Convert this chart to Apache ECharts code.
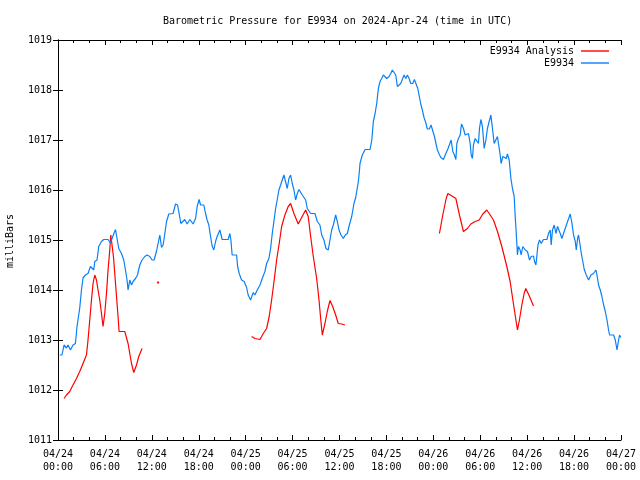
<!DOCTYPE html>
<html>
<head>
<meta charset="utf-8">
<script src="https://cdn.jsdelivr.net/npm/echarts@6/dist/echarts.min.js"></script>
<style>html,body{margin:0;padding:0;background:#fff;}#c{width:640px;height:480px;}</style>
</head>
<body>
<div id="c"></div>
<script>
// Hours since 2024-04-24 00:00 UTC
var xTickLabels = ['04/24\n00:00','04/24\n06:00','04/24\n12:00','04/24\n18:00','04/25\n00:00','04/25\n06:00','04/25\n12:00','04/25\n18:00','04/26\n00:00','04/26\n06:00','04/26\n12:00','04/26\n18:00','04/27\n00:00'];
var yTickValues = [1011,1012,1013,1014,1015,1016,1017,1018,1019];

var obsHours = [0.22,0.51,0.77,1.08,1.28,1.59,1.92,2.23,2.43,2.78,3.00,3.20,3.51,3.84,4.15,4.35,4.57,4.70,4.99,5.21,5.56,5.85,6.40,6.71,6.91,7.17,7.35,7.55,7.77,8.12,8.41,8.63,8.83,8.96,9.18,9.40,9.60,9.91,10.16,10.46,10.75,11.10,11.39,11.74,12.03,12.29,12.60,12.80,13.02,13.24,13.44,13.57,13.88,14.17,14.72,15.03,15.29,15.49,15.71,15.93,16.22,16.51,16.86,17.07,17.28,17.59,17.80,18.05,18.23,18.43,18.65,18.87,19.07,19.29,19.51,19.71,19.93,20.15,20.35,20.70,21.00,21.76,21.98,22.11,22.27,22.84,22.97,23.17,23.48,23.81,23.99,24.12,24.32,24.63,24.97,25.18,25.48,25.83,26.12,26.46,26.68,26.97,27.19,27.40,27.61,27.83,28.03,28.25,28.47,28.68,28.89,29.11,29.32,29.53,29.75,29.96,30.17,30.39,30.60,30.82,31.03,31.24,31.46,31.67,31.88,32.10,32.31,32.86,33.16,33.50,33.72,34.01,34.27,34.56,34.78,35.00,35.21,35.51,35.72,35.94,36.19,36.49,36.74,37.00,37.26,37.56,37.85,38.07,38.28,38.41,38.54,38.62,38.92,39.27,39.91,40.13,40.33,40.55,40.76,40.97,41.18,41.40,41.61,41.82,42.04,42.34,42.55,42.76,42.97,43.19,43.40,43.62,43.83,44.04,44.26,44.47,44.68,44.90,45.11,45.37,45.58,45.79,46.01,46.21,46.39,46.59,46.81,47.03,47.23,47.49,47.71,47.93,48.14,48.35,48.52,48.74,48.96,49.16,49.29,49.60,49.86,50.06,50.28,50.49,50.70,50.88,51.01,51.21,51.43,51.60,51.85,52.07,52.29,52.49,52.71,52.84,53.00,53.13,53.35,53.57,53.77,53.90,54.08,54.28,54.50,54.72,54.92,55.14,55.36,55.56,55.78,56.00,56.20,56.33,56.55,56.67,56.89,57.10,57.31,57.48,57.70,57.92,58.12,58.34,58.46,58.59,58.76,58.89,59.10,59.23,59.45,59.75,60.04,60.30,60.52,60.81,60.94,61.12,61.25,61.38,61.58,61.80,62.09,62.53,62.73,62.95,63.07,63.24,63.46,63.68,63.88,64.10,64.23,64.44,64.65,64.86,65.08,65.29,65.51,65.73,65.93,66.15,66.28,66.45,66.57,66.70,66.88,67.08,67.30,67.56,67.85,68.16,68.49,68.80,68.93,69.13,69.35,69.56,69.78,69.99,70.21,70.41,70.54,71.05,71.27,71.49,71.69,71.82,71.97];
var obsValues = [1012.70,1012.70,1012.90,1012.84,1012.90,1012.80,1012.90,1012.93,1013.27,1013.64,1014.00,1014.24,1014.30,1014.33,1014.47,1014.46,1014.40,1014.57,1014.60,1014.87,1014.97,1015.01,1015.01,1014.94,1014.97,1015.14,1015.21,1015.03,1014.83,1014.73,1014.60,1014.40,1014.20,1014.00,1014.20,1014.10,1014.17,1014.23,1014.30,1014.50,1014.60,1014.67,1014.70,1014.67,1014.60,1014.60,1014.78,1014.93,1015.10,1014.85,1014.90,1015.03,1015.37,1015.52,1015.53,1015.72,1015.70,1015.53,1015.33,1015.37,1015.41,1015.32,1015.41,1015.40,1015.32,1015.43,1015.67,1015.81,1015.70,1015.67,1015.70,1015.53,1015.40,1015.30,1015.07,1014.88,1014.80,1014.97,1015.07,1015.20,1015.01,1015.01,1015.13,1015.00,1014.70,1014.70,1014.47,1014.33,1014.20,1014.17,1014.20,1014.05,1013.90,1013.80,1013.95,1013.90,1014.00,1014.10,1014.23,1014.37,1014.53,1014.63,1014.83,1015.13,1015.37,1015.63,1015.80,1016.00,1016.10,1016.20,1016.30,1016.30,1016.03,1016.23,1016.30,1016.13,1016.00,1015.80,1015.93,1016.01,1015.97,1015.90,1015.87,1015.80,1015.63,1015.60,1015.53,1015.53,1015.37,1015.30,1015.10,1015.00,1014.83,1014.80,1015.00,1015.20,1015.30,1015.50,1015.37,1015.20,1015.10,1015.03,1015.10,1015.13,1015.30,1015.47,1015.73,1015.85,1015.85,1016.17,1016.37,1016.53,1016.70,1016.81,1016.81,1017.00,1017.37,1017.53,1017.73,1018.03,1018.17,1018.23,1018.30,1018.30,1018.23,1018.27,1018.33,1018.40,1018.37,1018.30,1018.07,1018.10,1018.13,1018.13,1018.30,1018.23,1018.30,1018.23,1018.13,1018.13,1018.21,1018.21,1018.03,1017.87,1017.72,1017.60,1017.45,1017.35,1017.22,1017.22,1017.30,1017.18,1017.07,1016.92,1016.80,1016.72,1016.65,1016.61,1016.61,1016.73,1016.82,1016.84,1017.00,1016.77,1016.70,1016.61,1016.93,1017.03,1017.10,1017.32,1017.23,1017.10,1017.07,1017.13,1016.93,1016.70,1016.63,1016.90,1017.03,1017.00,1016.93,1017.23,1017.41,1017.27,1016.83,1017.00,1017.23,1017.37,1017.50,1017.23,1016.93,1016.97,1017.07,1017.07,1016.70,1016.53,1016.67,1016.70,1016.63,1016.72,1016.60,1016.23,1016.03,1015.87,1015.50,1015.17,1014.70,1014.87,1014.80,1014.70,1014.87,1014.80,1014.77,1014.60,1014.67,1014.68,1014.57,1014.50,1014.70,1014.90,1015.00,1014.93,1015.01,1015.01,1015.13,1015.20,1014.90,1015.20,1015.30,1015.13,1015.27,1015.27,1015.13,1015.03,1015.13,1015.23,1015.33,1015.33,1015.52,1015.33,1015.10,1014.97,1014.80,1015.03,1015.10,1014.97,1014.77,1014.60,1014.41,1014.30,1014.20,1014.30,1014.33,1014.40,1014.30,1014.10,1014.00,1013.87,1013.70,1013.57,1013.40,1013.20,1013.10,1013.10,1013.00,1012.80,1013.00,1013.10,1013.05];

// null = gap in the analysis series
var anaHours = [0.77,1.08,1.50,1.92,2.36,2.78,3.20,3.64,3.84,4.06,4.28,4.48,4.70,4.92,5.12,5.34,5.56,5.76,5.89,5.98,6.20,6.40,6.62,6.75,6.91,7.09,7.26,7.48,7.68,7.81,8.54,8.76,8.96,9.18,9.40,9.69,10.04,10.33,10.75,11.8,12.80,18.0,24.76,25.18,25.83,26.25,26.68,27.01,27.32,27.65,27.96,28.29,28.60,29.02,29.44,29.75,30.17,30.72,31.16,31.67,31.80,32.00,32.31,32.65,33.08,33.38,33.59,33.80,34.14,34.44,34.78,35.13,35.51,35.84,36.28,36.70,42.0,48.78,49.21,49.64,49.86,50.37,50.88,51.34,51.85,52.36,52.80,53.35,53.86,54.33,54.84,55.27,55.69,56.20,56.76,57.40,57.82,58.24,58.59,58.76,59.01,59.32,59.61,59.83,60.04,60.30,60.81];
var anaValues = [1011.83,1011.90,1011.97,1012.10,1012.23,1012.37,1012.53,1012.70,1013.00,1013.40,1013.80,1014.13,1014.30,1014.20,1014.00,1013.80,1013.53,1013.27,1013.23,1013.53,1013.93,1014.40,1014.80,1015.10,1014.90,1014.67,1014.33,1013.87,1013.47,1013.17,1013.17,1013.13,1012.93,1012.73,1012.53,1012.35,1012.50,1012.67,1012.83,null,1014.15,null,1013.07,1013.03,1013.01,1013.13,1013.23,1013.47,1013.80,1014.20,1014.60,1014.93,1015.27,1015.50,1015.67,1015.73,1015.53,1015.32,1015.45,1015.60,1015.63,1015.47,1015.07,1014.67,1014.23,1013.80,1013.43,1013.10,1013.33,1013.57,1013.79,1013.67,1013.50,1013.33,1013.32,1013.30,null,1015.13,1015.50,1015.83,1015.93,1015.88,1015.83,1015.50,1015.17,1015.23,1015.32,1015.37,1015.40,1015.52,1015.60,1015.50,1015.40,1015.17,1014.87,1014.47,1014.17,1013.73,1013.37,1013.20,1013.40,1013.70,1013.93,1014.03,1014.00,1013.87,1013.68];

var FONT = 'DejaVu Sans Mono';
var RED = '#ff0000';
var BLUE = '#0a80f5';

function zip(h, v) {
  var out = [];
  for (var i = 0; i < h.length; i++) {
    var isolated = v[i] != null && (i === 0 || v[i-1] == null) && (i === v.length-1 || v[i+1] == null);
    if (isolated) out.push({value: [h[i], v[i]], symbol: 'rect', symbolSize: [2, 2]});
    else out.push([h[i], v[i] == null ? '-' : v[i]]);
  }
  return out;
}

var chart = echarts.init(document.getElementById('c'), null, {renderer: 'canvas'});
var axisCommon = {
  axisLine: {show: true, lineStyle: {color: '#000', width: 1}},
  splitLine: {show: false}
};
var legendCommon = {
  orient: 'vertical', align: 'right', right: 26, padding: 0,
  icon: 'rect', itemWidth: 28, itemHeight: 1.4, itemGap: 0,
  textStyle: {fontFamily: FONT, fontSize: 10, color: '#000', padding: [0, 2, 0, 0]}
};
chart.setOption({
  animation: false,
  backgroundColor: '#fff',
  textStyle: {fontFamily: FONT},
  title: {
    text: 'Barometric Pressure for E9934 on 2024-Apr-24 (time in UTC)',
    left: 163, top: 16, padding: 0,
    textStyle: {fontFamily: FONT, fontSize: 10, fontWeight: 'normal', color: '#000'}
  },
  grid: {left: 58, right: 19, top: 40, bottom: 40, containLabel: false},
  legend: [
    Object.assign({}, legendCommon, {data: [{name: 'E9934 Analysis', itemStyle: {color: RED}}], right: 31, top: 46}),
    Object.assign({}, legendCommon, {data: [{name: 'E9934', itemStyle: {color: BLUE}}], right: 31, top: 58})
  ],
  xAxis: [
    Object.assign({}, axisCommon, {
      type: 'value', min: 0, max: 72, interval: 6, position: 'bottom',
      axisTick: {show: true, inside: true, length: 5, lineStyle: {color: '#000'}},
      minorTick: {show: true, splitNumber: 3, length: 3, lineStyle: {color: '#000'}},
      axisLabel: {
        show: true, margin: 8, color: '#000', fontFamily: FONT, fontSize: 10, lineHeight: 13,
        formatter: function (v) { return xTickLabels[Math.round(v / 6)]; }
      }
    }),
    Object.assign({}, axisCommon, {
      type: 'value', min: 0, max: 72, interval: 6, position: 'top',
      axisTick: {show: true, inside: true, length: 5, lineStyle: {color: '#000'}},
      minorTick: {show: true, splitNumber: 3, length: 3, lineStyle: {color: '#000'}},
      axisLabel: {show: false}
    })
  ],
  yAxis: [
    Object.assign({}, axisCommon, {
      type: 'value', min: yTickValues[0], max: yTickValues[yTickValues.length-1], interval: 1, position: 'left',
      axisTick: {show: true, inside: true, length: 5, lineStyle: {color: '#000'}},
      axisLabel: {show: true, margin: 6, color: '#000', fontFamily: FONT, fontSize: 10,
        formatter: function (v) { return String(v); }}
    }),
    Object.assign({}, axisCommon, {
      type: 'value', min: yTickValues[0], max: yTickValues[yTickValues.length-1], interval: 1, position: 'right',
      axisTick: {show: true, inside: true, length: 5, lineStyle: {color: '#000'}},
      axisLabel: {show: false}
    })
  ],
  graphic: [{
    type: 'text', x: 10, y: 241, rotation: Math.PI / 2,
    style: {text: 'milliBars', fontFamily: FONT, fontSize: 10, fill: '#000', align: 'center', verticalAlign: 'middle'}
  }],
  series: [
    {
      name: 'E9934 Analysis', type: 'line', xAxisIndex: 0, yAxisIndex: 0,
      data: zip(anaHours, anaValues), symbol: 'none', showSymbol: true, connectNulls: false,
      lineStyle: {color: RED, width: 1.2}, itemStyle: {color: RED}, color: RED
    },
    {
      name: 'E9934', type: 'line', xAxisIndex: 0, yAxisIndex: 0,
      data: zip(obsHours, obsValues), symbol: 'none', showSymbol: false,
      lineStyle: {color: BLUE, width: 1.2}, itemStyle: {color: BLUE}, color: BLUE
    }
  ]
});
</script>
</body>
</html>
